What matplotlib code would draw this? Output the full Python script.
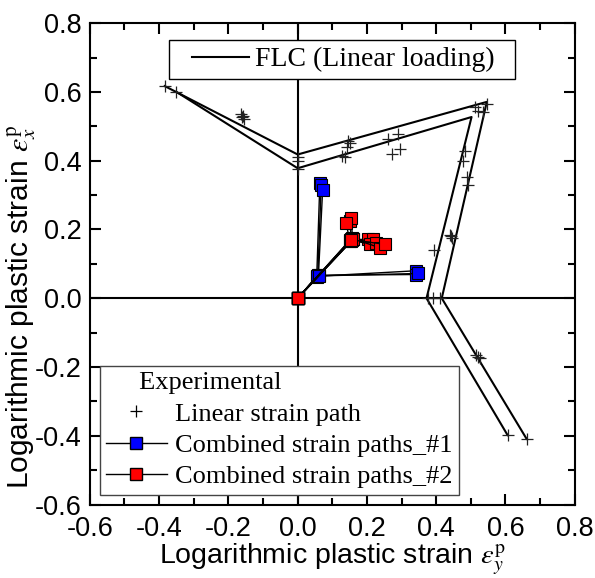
import matplotlib.pyplot as plt
from matplotlib.lines import Line2D
from matplotlib.legend_handler import HandlerLine2D
from matplotlib.ticker import MultipleLocator

plt.rcParams['font.family'] = ['Liberation Sans', 'DejaVu Sans']
plt.rcParams['mathtext.fontset'] = 'stix'

# FLC (linear loading), two curves
flc_outer_x = [-0.384, 0.0, 0.546, 0.416, 0.661]
flc_outer_y = [0.617, 0.418, 0.571, 0.0, -0.409]
flc_inner_x = [-0.350, 0.0, 0.502, 0.372, 0.606]
flc_inner_y = [0.600, 0.378, 0.527, 0.0, -0.398]

# experimental, linear strain path
lin_x = [-0.384, -0.350, -0.165, -0.160, -0.155, -0.158, 0.0, 0.0, 0.0,
         0.144, 0.150, 0.141, 0.127, 0.136, 0.260, 0.289, 0.294, 0.271,
         0.511, 0.520, 0.534, 0.546, 0.482, 0.476, 0.488, 0.491, 0.439,
         0.447, 0.443, 0.395, 0.375, 0.392, 0.410, 0.515, 0.520, 0.525,
         0.606, 0.661]
lin_y = [0.617, 0.600, 0.535, 0.528, 0.522, 0.530, 0.410, 0.400, 0.375,
         0.458, 0.450, 0.441, 0.415, 0.412, 0.464, 0.478, 0.435, 0.418,
         0.556, 0.545, 0.542, 0.565, 0.427, 0.398, 0.354, 0.329, 0.184,
         0.176, 0.180, 0.141, 0.0, 0.0, 0.0, -0.165, -0.170, -0.175,
         -0.398, -0.409]

# combined strain paths #1 : origin -> mid -> end
c1_mid_x = [0.055, 0.058, 0.060, 0.057, 0.061, 0.062]
c1_mid_y = [0.063, 0.066, 0.068, 0.064, 0.067, 0.065]
c1_end_x = [0.064, 0.068, 0.072, 0.343, 0.341, 0.347]
c1_end_y = [0.334, 0.329, 0.314, 0.080, 0.069, 0.072]

# combined strain paths #2
c2_mid_x = [0.155, 0.158, 0.150, 0.160, 0.152, 0.157, 0.155, 0.160, 0.153]
c2_mid_y = [0.172, 0.175, 0.168, 0.171, 0.166, 0.169, 0.167, 0.173, 0.170]
c2_end_x = [0.150, 0.155, 0.140, 0.202, 0.217, 0.208, 0.227, 0.237, 0.251]
c2_end_y = [0.225, 0.233, 0.219, 0.171, 0.171, 0.157, 0.161, 0.147, 0.157]

tick_vals = [-0.6, -0.4, -0.2, 0.0, 0.2, 0.4, 0.6, 0.8]
tick_text = ['-0.6', '-0.4', '-0.2', '0.0', '0.2', '0.4', '0.6', '0.8']

fig = plt.figure(figsize=(5.95, 5.78), dpi=100)
ax = fig.add_axes([0.151, 0.127, 0.815, 0.833])

ax.axhline(0, color='black', lw=1.5, zorder=1)
ax.axvline(0, color='black', lw=1.5, zorder=1)

ax.plot(flc_outer_x, flc_outer_y, color='black', lw=1.5)
ax.plot(flc_inner_x, flc_inner_y, color='black', lw=1.5)

ax.plot(lin_x, lin_y, ls='none', marker='+', ms=9, mew=0.9, color='#222222', zorder=3)

for mx, my, ex, ey in zip(c1_mid_x, c1_mid_y, c1_end_x, c1_end_y):
    ax.plot([0, mx, ex], [0, my, ey], color='black', lw=1.0, marker='s', ms=8.5,
            mfc='#0000ff', mec='black', mew=0.8, zorder=4)
for mx, my, ex, ey in zip(c2_mid_x, c2_mid_y, c2_end_x, c2_end_y):
    ax.plot([0, mx, ex], [0, my, ey], color='black', lw=1.0, marker='s', ms=8.5,
            mfc='#ff0000', mec='black', mew=0.8, zorder=5)

ax.set_xlim(-0.6, 0.8)
ax.set_ylim(-0.6, 0.8)
ax.xaxis.set_minor_locator(MultipleLocator(0.1))
ax.yaxis.set_minor_locator(MultipleLocator(0.1))
ax.set_xticks(tick_vals)
ax.set_xticklabels(tick_text)
ax.set_yticks(tick_vals)
ax.set_yticklabels(tick_text)
ax.tick_params(which='both', direction='in', top=True, right=True, width=1.5)
ax.tick_params(which='major', length=8, labelsize=19.5, pad=6)
ax.tick_params(axis='x', which='major', pad=8)
ax.tick_params(which='minor', length=5)
for s in ax.spines.values():
    s.set_linewidth(1.5)

ax.set_xlabel(r'Logarithmic plastic strain $\varepsilon_y^{\mathrm{p}}$', fontsize=20.5, labelpad=0)
ax.set_ylabel(r'Logarithmic plastic strain $\varepsilon_x^{\mathrm{p}}$', fontsize=21.5)
ax.yaxis.set_label_coords(-0.107, 0.41)

serif = {'family': 'Liberation Serif', 'size': 19}

h_flc = [Line2D([], [], color='black', lw=1.5)]
leg1 = ax.legend(h_flc, ['FLC (Linear loading)  '], loc='upper center', bbox_to_anchor=(0.52, 0.965),
                 prop={'family': 'Liberation Serif', 'size': 20}, frameon=True, fancybox=False,
                 edgecolor='black', framealpha=1, handlelength=2.63, handletextpad=0.22,
                 borderpad=0.25, borderaxespad=0,
                 handler_map={h_flc[0]: HandlerLine2D(xpad=0.58)})
leg1.get_frame().set_linewidth(1.0)
ax.add_artist(leg1)

h_exp = [Line2D([], [], ls='none', marker='+', ms=9, mew=0.9, color='black'),
         Line2D([], [], color='black', lw=1.0, marker='s', ms=8.5, mfc='#0000ff', mec='black'),
         Line2D([], [], color='black', lw=1.0, marker='s', ms=8.5, mfc='#ff0000', mec='black')]
leg2 = ax.legend(h_exp, ['Linear strain path', 'Combined strain paths_#1', 'Combined strain paths_#2'],
                 loc='lower left', bbox_to_anchor=(0.02, 0.02), prop=serif,
                 title='     Experimental', title_fontproperties=serif, alignment='left',
                 frameon=True, fancybox=False, edgecolor='#444444', framealpha=1,
                 handlelength=2.3, handletextpad=0.3, borderpad=0.25, labelspacing=0.3,
                 borderaxespad=0)
leg2.get_frame().set_linewidth(1.0)

fig.savefig('out.png', dpi=100)
